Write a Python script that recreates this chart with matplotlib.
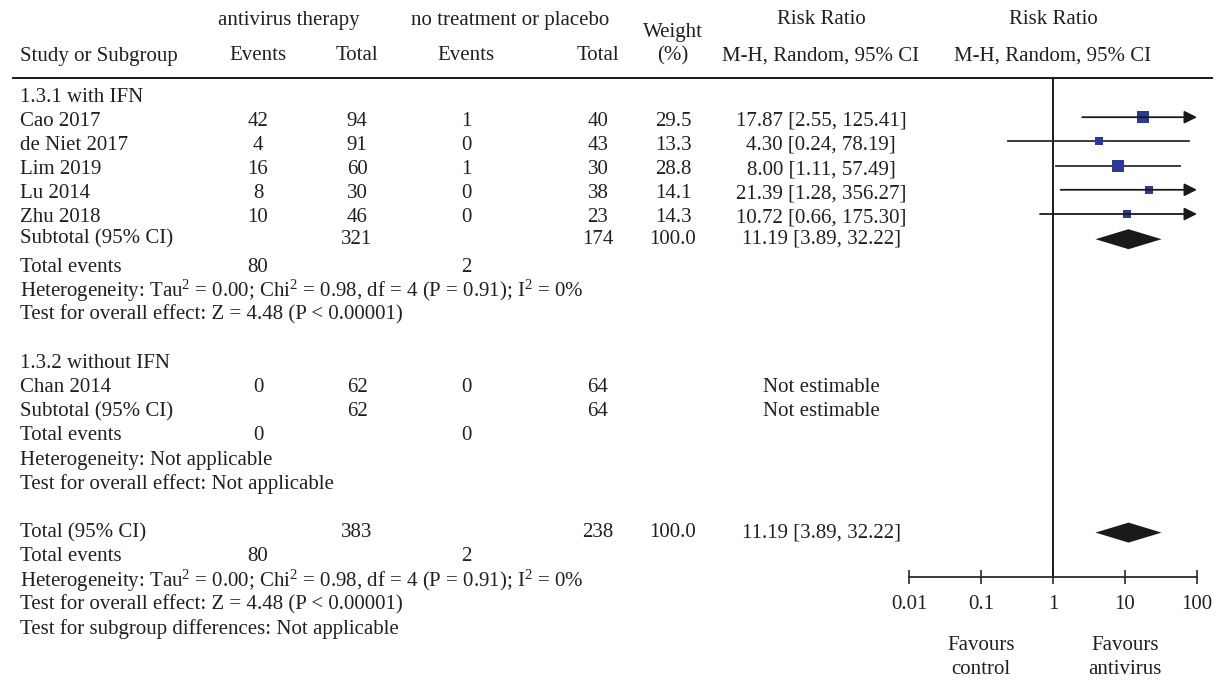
import numpy as np
import matplotlib
matplotlib.use("Agg")
import matplotlib.pyplot as plt

plt.rcParams["font.family"] = ["Liberation Serif", "DejaVu Serif"]
plt.rcParams["mathtext.fontset"] = "custom"
plt.rcParams["mathtext.rm"] = "Liberation Serif"
plt.rcParams["mathtext.it"] = "Liberation Serif:italic"
plt.rcParams["mathtext.default"] = "rm"

# ---- data -------------------------------------------------------------
studies = ["Cao 2017", "de Niet 2017", "Lim 2019", "Lu 2014", "Zhu 2018"]
events_av = [42, 4, 16, 8, 10]
total_av = [94, 91, 60, 30, 46]
events_ctl = [1, 0, 1, 0, 0]
total_ctl = [40, 43, 30, 38, 23]
weights = [29.5, 13.3, 28.8, 14.1, 14.3]
rr = [17.87, 4.30, 8.00, 21.39, 10.72]
rr_lo = [2.55, 0.24, 1.11, 1.28, 0.66]
rr_hi = [125.41, 78.19, 57.49, 356.27, 175.30]

sub1_total_av, sub1_total_ctl = 321, 174
sub1_events_av, sub1_events_ctl = 80, 2
sub1_weight = 100.0
sub1_rr, sub1_lo, sub1_hi = 11.19, 3.89, 32.22

study2 = "Chan 2014"
study2_events_av, study2_total_av = 0, 62
study2_events_ctl, study2_total_ctl = 0, 64

overall_total_av, overall_total_ctl = 383, 238
overall_events_av, overall_events_ctl = 80, 2
overall_weight = 100.0
overall_rr, overall_lo, overall_hi = 11.19, 3.89, 32.22

scale_ticks = [0.01, 0.1, 1, 10, 100]
scale_labels = ["0.01", "0.1", "1", "10", "100"]

het_text = ("Heterogeneity: Tau$^{2}$ = 0.00; Chi$^{2}$ = 0.98, df = 4 "
            "(P = 0.91); I$^{2}$ = 0%")
effect_text = "Test for overall effect: Z = 4.48 (P < 0.00001)"

# ---- layout -----------------------------------------------------------
W, H = 1216, 682
TXT = "#231f20"
LINE = "#2b2b2b"
BLUE = "#2b3a94"
FS = 15

fig = plt.figure(figsize=(W / 100, H / 100), dpi=100)
ax = fig.add_axes([0, 0, 1, 1])
ax.set_xlim(0, W)
ax.set_ylim(H, 0)
ax.axis("off")

X_LEFT = 20
X_EV_AV, X_TOT_AV = 258, 357
X_EV_CTL, X_TOT_CTL = 466, 598
X_W, X_CI = 673, 821

def t(x, y, s, ha="center", **kw):
    ax.text(x, y, s, ha=ha, va="center", fontsize=FS, color=TXT, **kw)

# header
Y_H1, Y_HW, Y_H2, Y_RULE = 20, 33, 56, 78
t(289, Y_H1, "antivirus therapy")
t(510, Y_H1, "no treatment or placebo")
t(X_LEFT, Y_H2, "Study or Subgroup", ha="left")
t(X_EV_AV, Y_H2, "Events")
t(X_TOT_AV, Y_H2, "Total")
t(X_EV_CTL, Y_H2, "Events")
t(X_TOT_CTL, Y_H2, "Total")
t(X_W, Y_HW, "Weight")
t(X_W, Y_H2, "(%)")
t(X_CI, Y_H1, "Risk Ratio")
t(X_CI, Y_H2, "M-H, Random, 95% CI")
t(1053, Y_H1, "Risk Ratio")
t(1053, Y_H2, "M-H, Random, 95% CI")
ax.plot([13, 1212], [Y_RULE, Y_RULE], color="#1a1a1a", lw=1.4)

# row positions
Y0, DY = 97, 24.2
row = lambda i: Y0 + i * DY
MARK_SHIFT = -4  # graphic marks sit slightly above the text centre line

# forest panel on a log axis sharing the pixel y-range
x_lo_px, x_hi_px = 909, 1197
fx = fig.add_axes([x_lo_px / W, 0, (x_hi_px - x_lo_px) / W, 1])
fx.set_xscale("log")
fx.set_xlim(scale_ticks[0], scale_ticks[-1])
fx.set_ylim(H, 0)
fx.patch.set_visible(False)
for side in ("top", "left", "right"):
    fx.spines[side].set_visible(False)
Y_AXIS = 577
fx.spines["bottom"].set_position(("data", Y_AXIS))
fx.spines["bottom"].set_color(LINE)
fx.spines["bottom"].set_linewidth(1.3)
fx.set_yticks([])
fx.set_xticks(scale_ticks)
fx.set_xticklabels(scale_labels)
fx.xaxis.set_minor_locator(matplotlib.ticker.NullLocator())
fx.tick_params(axis="x", direction="inout", length=10, width=1.2,
               color=LINE, pad=8, labelsize=FS, labelcolor=TXT)
fx.plot([1, 1], [Y_RULE, Y_AXIS], color="#1a1a1a", lw=1.4, clip_on=False)
for xv, top, bottom in [(0.1, "Favours", "control"), (10, "Favours", "antivirus")]:
    fx.text(xv, 645, top, ha="center", va="center", fontsize=FS, color=TXT)
    fx.text(xv, 669, bottom, ha="center", va="center", fontsize=FS, color=TXT)

def study_mark(y, est, lo, hi, w):
    y = y + MARK_SHIFT
    top = scale_ticks[-1]
    if hi > top:
        fx.annotate("", xy=(top, y), xytext=(lo, y),
                    arrowprops=dict(arrowstyle="-|>", color="#1a1a1a", lw=1.3,
                                    mutation_scale=19, shrinkA=0, shrinkB=0),
                    annotation_clip=False)
    else:
        fx.plot([lo, hi], [y, y], color=LINE, lw=1.3, clip_on=False)
    fx.plot(est, y, "s", color=BLUE, ms=1.65 * np.sqrt(w), mew=0, clip_on=False)

def diamond(y, est, lo, hi, half=10):
    fx.fill([lo, est, hi, est], [y, y - half, y, y + half],
            color="#1a1a1a", lw=0, clip_on=False)

# subgroup 1.3.1
t(X_LEFT, row(0), "1.3.1 with IFN", ha="left")
for i, name in enumerate(studies):
    y = row(1 + i)
    t(X_LEFT, y, name, ha="left")
    t(X_EV_AV, y, str(events_av[i]))
    t(X_TOT_AV, y, str(total_av[i]))
    t(X_EV_CTL, y, str(events_ctl[i]))
    t(X_TOT_CTL, y, str(total_ctl[i]))
    t(X_W, y, f"{weights[i]:.1f}")
    t(X_CI, y, f"{rr[i]:.2f} [{rr_lo[i]:.2f}, {rr_hi[i]:.2f}]")
    study_mark(y, rr[i], rr_lo[i], rr_hi[i], weights[i])

y = row(6) - 3
t(X_LEFT, y, "Subtotal (95% CI)", ha="left")
t(X_TOT_AV, y, str(sub1_total_av))
t(X_TOT_CTL, y, str(sub1_total_ctl))
t(X_W, y, f"{sub1_weight:.1f}")
t(X_CI, y, f"{sub1_rr:.2f} [{sub1_lo:.2f}, {sub1_hi:.2f}]")
diamond(y, sub1_rr, sub1_lo, sub1_hi)
y = row(7) + 1
t(X_LEFT, y, "Total events", ha="left")
t(X_EV_AV, y, str(sub1_events_av))
t(X_EV_CTL, y, str(sub1_events_ctl))
t(X_LEFT, row(8), het_text, ha="left")
t(X_LEFT, row(9), effect_text, ha="left")

# subgroup 1.3.2
t(X_LEFT, row(11), "1.3.2 without IFN", ha="left")
y = row(12)
t(X_LEFT, y, study2, ha="left")
t(X_EV_AV, y, str(study2_events_av))
t(X_TOT_AV, y, str(study2_total_av))
t(X_EV_CTL, y, str(study2_events_ctl))
t(X_TOT_CTL, y, str(study2_total_ctl))
t(X_CI, y, "Not estimable")
y = row(13)
t(X_LEFT, y, "Subtotal (95% CI)", ha="left")
t(X_TOT_AV, y, str(study2_total_av))
t(X_TOT_CTL, y, str(study2_total_ctl))
t(X_CI, y, "Not estimable")
y = row(14)
t(X_LEFT, y, "Total events", ha="left")
t(X_EV_AV, y, str(study2_events_av))
t(X_EV_CTL, y, str(study2_events_ctl))
t(X_LEFT, row(15), "Heterogeneity: Not applicable", ha="left")
t(X_LEFT, row(16), "Test for overall effect: Not applicable", ha="left")

# overall
y = row(18)
t(X_LEFT, y, "Total (95% CI)", ha="left")
t(X_TOT_AV, y, str(overall_total_av))
t(X_TOT_CTL, y, str(overall_total_ctl))
t(X_W, y, f"{overall_weight:.1f}")
t(X_CI, y, f"{overall_rr:.2f} [{overall_lo:.2f}, {overall_hi:.2f}]")
diamond(y, overall_rr, overall_lo, overall_hi)
y = row(19)
t(X_LEFT, y, "Total events", ha="left")
t(X_EV_AV, y, str(overall_events_av))
t(X_EV_CTL, y, str(overall_events_ctl))
t(X_LEFT, row(20), het_text, ha="left")
t(X_LEFT, row(21), effect_text, ha="left")
t(X_LEFT, row(22), "Test for subgroup differences: Not applicable", ha="left")

fig.savefig("out.png", dpi=100)
